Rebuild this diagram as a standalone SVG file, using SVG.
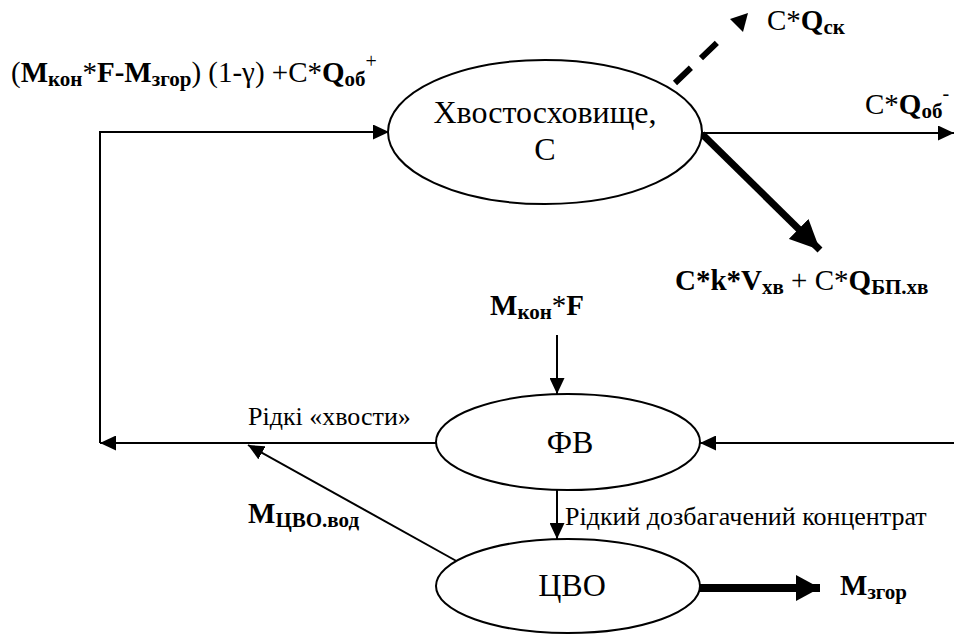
<svg xmlns="http://www.w3.org/2000/svg" width="954" height="634" viewBox="0 0 954 634" font-family="Liberation Serif">
<defs>
<marker id="ah" markerUnits="userSpaceOnUse" markerWidth="16" markerHeight="15" viewBox="0 0 16 15" refX="16" refY="7.5" orient="auto">
<path d="M0,0 L16,7.5 L0,15 z" fill="#000"/>
</marker>
<marker id="ahBig" markerUnits="userSpaceOnUse" markerWidth="30" markerHeight="28" viewBox="0 0 30 28" refX="30" refY="14" orient="auto">
<path d="M0,0 L30,14 L0,28 z" fill="#000"/>
</marker>
<marker id="ahMid" markerUnits="userSpaceOnUse" markerWidth="24" markerHeight="26" viewBox="0 0 24 26" refX="24" refY="13" orient="auto">
<path d="M0,0 L24,13 L0,26 z" fill="#000"/>
</marker>
</defs>
<rect width="954" height="634" fill="#fff"/>

<g id="connectors" stroke="#000" fill="none">
<polyline stroke-width="2" points="100,443 100,132 389,132" marker-end="url(#ah)"/>
<line stroke-width="2" x1="437" y1="443" x2="100" y2="443" marker-end="url(#ah)"/>
<line stroke-width="2" x1="702" y1="133" x2="954" y2="133" marker-end="url(#ah)"/>
<line x1="675" y1="83" x2="725" y2="35" stroke-width="6" stroke-dasharray="22 14"/>
<polygon points="748,13 743,32 730,19" fill="#000" stroke="none"/>
<line x1="702" y1="134" x2="820" y2="250" stroke-width="7" marker-end="url(#ahBig)"/>
<line stroke-width="2" x1="557" y1="335" x2="557" y2="394" marker-end="url(#ah)"/>
<line stroke-width="2" x1="954" y1="443" x2="700" y2="443" marker-end="url(#ah)"/>
<line stroke-width="2" x1="557" y1="490" x2="557" y2="539" marker-end="url(#ah)"/>
<line stroke-width="2" x1="460" y1="563" x2="248" y2="445" marker-end="url(#ah)"/>
<line x1="700" y1="588" x2="820" y2="588" stroke-width="8" marker-end="url(#ahMid)"/>
</g>

<g id="node-khvostoskhovyshche" font-family="Liberation Serif">
<ellipse cx="545" cy="132" rx="157" ry="72" fill="#fff" stroke="#000" stroke-width="2"/>
<text x="545" y="123" font-family="Liberation Serif" font-size="32" text-anchor="middle">Хвостосховище,</text>
<text x="545" y="160" font-family="Liberation Serif" font-size="32" text-anchor="middle">С</text>
</g>
<g id="node-fv" font-family="Liberation Serif">
<ellipse cx="568" cy="442" rx="132" ry="48" fill="#fff" stroke="#000" stroke-width="2"/>
<text x="570" y="453" font-family="Liberation Serif" font-size="32" text-anchor="middle">ФВ</text>
</g>
<g id="node-tsvo" font-family="Liberation Serif">
<ellipse cx="568" cy="586" rx="132" ry="47" fill="#fff" stroke="#000" stroke-width="2"/>
<text x="572" y="596" font-family="Liberation Serif" font-size="32" text-anchor="middle">ЦВО</text>
</g>

<g id="labels" font-family="Liberation Serif">
<text x="11" y="82" font-family="Liberation Serif" font-size="29">(<tspan font-weight="bold">M</tspan><tspan font-weight="bold" font-size="21" dy="4">кон</tspan><tspan dy="-4">*</tspan><tspan font-weight="bold">F-M</tspan><tspan font-weight="bold" font-size="21" dy="4">згор</tspan><tspan dy="-4">) (1-γ) +C*</tspan><tspan font-weight="bold">Q</tspan><tspan font-weight="bold" font-size="21" dy="4">об</tspan><tspan dy="-18" font-size="20">+</tspan></text>
<text x="767" y="30" font-family="Liberation Serif" font-size="29">C*<tspan font-weight="bold">Q</tspan><tspan font-weight="bold" font-size="21" dy="4">ск</tspan></text>
<text x="865" y="114" font-family="Liberation Serif" font-size="29">C*<tspan font-weight="bold">Q</tspan><tspan font-weight="bold" font-size="21" dy="4">об</tspan><tspan dy="-18" font-size="20">-</tspan></text>
<text x="675" y="290" font-family="Liberation Serif" font-size="29"><tspan font-weight="bold">C*k*V</tspan><tspan font-weight="bold" font-size="21" dy="4">хв</tspan><tspan dy="-4"> + C*</tspan><tspan font-weight="bold">Q</tspan><tspan font-weight="bold" font-size="21" dy="4">БП.хв</tspan></text>
<text x="490" y="315" font-family="Liberation Serif" font-size="29"><tspan font-weight="bold">M</tspan><tspan font-weight="bold" font-size="21" dy="4">кон</tspan><tspan dy="-4">*</tspan><tspan font-weight="bold">F</tspan></text>
<text x="248" y="425" font-family="Liberation Serif" font-size="26">Рідкі «хвости»</text>
<text x="248" y="523" font-family="Liberation Serif" font-size="29"><tspan font-weight="bold">M</tspan><tspan font-weight="bold" font-size="21" dy="4">ЦВО.вод</tspan></text>
<text x="565" y="525" font-family="Liberation Serif" font-size="26">Рідкий дозбагачений концентрат</text>
<text x="840" y="595" font-family="Liberation Serif" font-size="29"><tspan font-weight="bold">M</tspan><tspan font-weight="bold" font-size="21" dy="4">згор</tspan></text>
</g>
</svg>
